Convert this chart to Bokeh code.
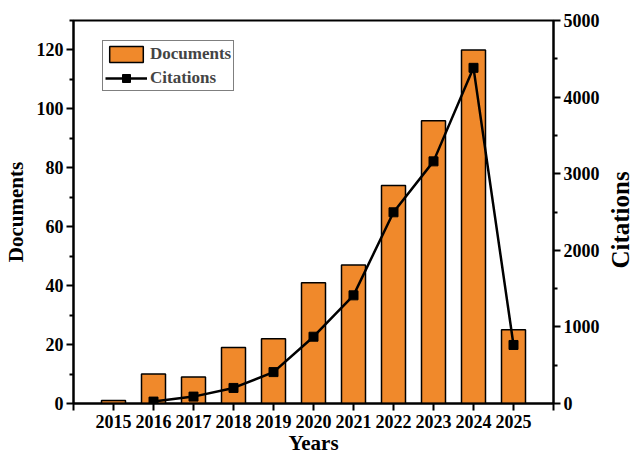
import math
from bokeh.plotting import figure
from bokeh.layouts import row
from bokeh.models import (Range1d, LinearAxis, FixedTicker, Legend, LegendItem, ColumnDataSource)
from bokeh.core.properties import value
from bokeh.embed import file_html
from bokeh.resources import INLINE

years = [2015, 2016, 2017, 2018, 2019, 2020, 2021, 2022, 2023, 2024, 2025]
documents = [1, 10, 9, 19, 22, 41, 47, 74, 96, 120, 25]
cit_years = [2016, 2017, 2018, 2019, 2020, 2021, 2022, 2023, 2024, 2025]
citations = [25, 90, 203, 410, 872, 1412, 2496, 3161, 4382, 764]

FONT = "Liberation Serif"
ORANGE = "#F0892B"

p = figure(width=604, height=457, output_backend="svg", toolbar_location=None,
           x_range=Range1d(2014, 2026), y_range=Range1d(0, 130),
           min_border_left=73, min_border_right=51, min_border_top=20, min_border_bottom=52)
p.extra_y_ranges = {"cit": Range1d(0, 5000)}

src_d = ColumnDataSource(dict(x=years, top=documents))
src_c = ColumnDataSource(dict(x=cit_years, y=citations))

bars = p.vbar(x="x", top="top", width=0.6, source=src_d, fill_color=ORANGE,
              line_color="black", line_width=1.5)
ln = p.line(x="x", y="y", source=src_c, y_range_name="cit", line_color="black", line_width=2.5)
sc = p.scatter(x="x", y="y", source=src_c, y_range_name="cit", marker="square", size=9,
               fill_color="black", line_color="black")

p.xgrid.visible = False
p.ygrid.visible = False
p.outline_line_color = "black"
p.outline_line_width = 2
p.outline_line_alpha = 1

xa = p.xaxis[0]
xa.ticker = FixedTicker(ticks=list(range(2014, 2027)), minor_ticks=[])
xa.major_label_overrides = {2014: "", 2026: ""}
xa.axis_label = "Years"

ya = p.yaxis[0]
ya.ticker = FixedTicker(ticks=[0, 20, 40, 60, 80, 100, 120],
                        minor_ticks=[10, 30, 50, 70, 90, 110, 130])
ya.axis_label = "Documents"

ra = LinearAxis(y_range_name="cit",
                ticker=FixedTicker(ticks=[0, 1000, 2000, 3000, 4000, 5000],
                                   minor_ticks=[500, 1500, 2500, 3500, 4500]))
p.add_layout(ra, "right")

for ax in (xa, ya, ra):
    ax.axis_line_width = 2
    ax.axis_line_color = "black"
    ax.major_tick_line_width = 2
    ax.minor_tick_line_width = 2
    ax.major_tick_out = 7
    ax.major_tick_in = 0
    ax.minor_tick_out = 4
    ax.minor_tick_in = 0
    ax.major_label_text_font = FONT
    ax.major_label_text_font_style = "bold"
    ax.major_label_text_font_size = "18px"
    ax.major_label_text_color = "black"
    ax.axis_label_text_font = FONT
    ax.axis_label_text_font_style = "bold"
    ax.axis_label_text_color = "black"
    ax.major_label_standoff = 3

xa.major_label_standoff = 4
xa.axis_label_text_font_size = "21px"
ya.axis_label_text_font_size = "21px"
xa.axis_label_standoff = 0
ya.axis_label_standoff = 6

legend = Legend(items=[LegendItem(label="Documents", renderers=[bars]),
                       LegendItem(label="Citations", renderers=[ln, sc])])
legend.label_text_font = FONT
legend.label_text_font_style = "bold"
legend.label_text_font_size = "17px"
legend.glyph_width = 42
legend.glyph_height = 20
legend.label_standoff = 3
legend.spacing = 3
legend.padding = 2
legend.margin = 0
legend.border_line_color = "black"
legend.border_line_width = 1
legend.label_height = 21
legend.location = (29, 312)
p.add_layout(legend)

# narrow strip on the right carrying the right-hand axis title, reading bottom-to-top
q = figure(width=30, height=457, output_backend="svg", toolbar_location=None,
           x_range=Range1d(0, 30), y_range=Range1d(0, 457), min_border=0)
q.axis.visible = False
q.grid.visible = False
q.outline_line_color = None
q.text(x=[16], y=[219], text=["Citations"], angle=math.pi / 2,
       text_font=value(FONT), text_font_style="bold", text_font_size="25px",
       text_align="center", text_baseline="middle", text_color="black")

layout = row(p, q, spacing=0)
open("out.html", "w").write(file_html(layout, INLINE))
